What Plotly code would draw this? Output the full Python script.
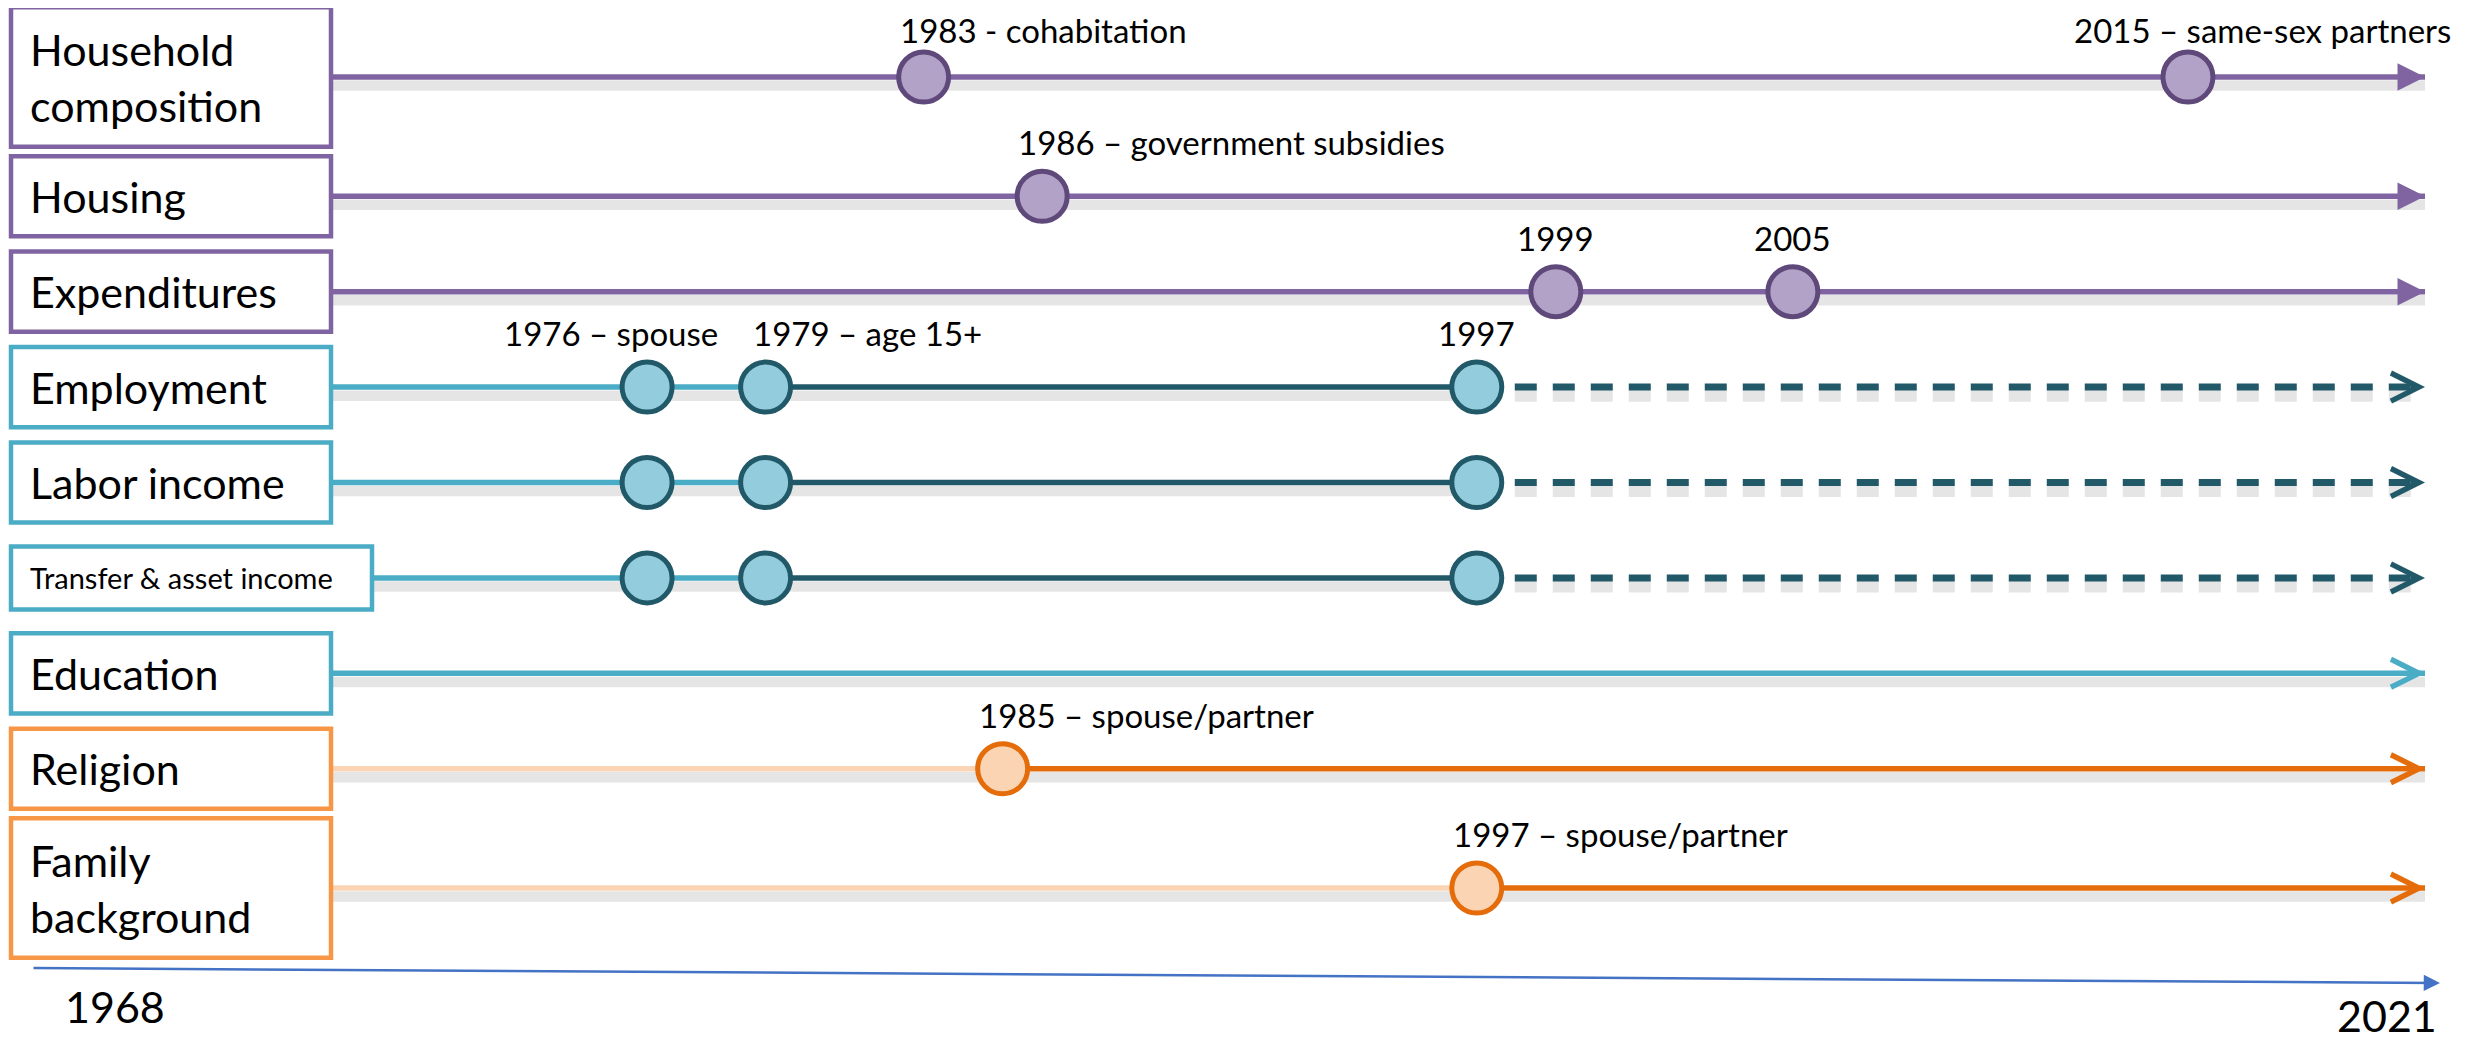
import plotly.graph_objects as go

# Timeline rows, top to bottom
ROWS = ["Household composition", "Housing", "Expenditures", "Employment",
        "Labor income", "Transfer & asset income", "Education", "Religion",
        "Family background"]
ROW_LABELS = ["Household<br>composition", "Housing", "Expenditures", "Employment",
              "Labor income", "Transfer & asset income", "Education", "Religion",
              "Family<br>background"]
ROW_GROUP = ["purple", "purple", "purple", "teal", "teal", "teal", "teal",
             "orange", "orange"]

START_YEAR = 1968
END_YEAR = 2021
TIME_TICKS = [START_YEAR, END_YEAR]

# years where a row changes from light to dark (and then to dashed)
ROW_BREAKS = {
    "Employment": [1979, 1997],
    "Labor income": [1979, 1997],
    "Transfer & asset income": [1979, 1997],
    "Religion": [1985],
    "Family background": [1997],
}

# milestones on the rows
EVENT_ROW = ["Household composition", "Household composition", "Housing",
             "Expenditures", "Expenditures",
             "Employment", "Employment", "Employment",
             "Labor income", "Labor income", "Labor income",
             "Transfer & asset income", "Transfer & asset income", "Transfer & asset income",
             "Religion", "Family background"]
EVENT_YEAR = [1983, 2015, 1986, 1999, 2005,
              1976, 1979, 1997,
              1976, 1979, 1997,
              1976, 1979, 1997,
              1985, 1997]
EVENT_TEXT = ["1983 - cohabitation", "2015 \u2013 same-sex partners",
              "1986 \u2013 government subsidies", "1999", "2005",
              "1976 \u2013 spouse", "1979 \u2013 age 15+", "1997",
              "", "", "",
              "", "", "",
              "1985 \u2013 spouse/partner", "1997 \u2013 spouse/partner"]

# ---- styling ----
OFF = 8                      # page margin in front of the plot div
FW, FH = 2483 - OFF, 1044 - OFF
FONT = "Lato, 'Open Sans', sans-serif"
STYLE = {
    "purple": dict(box="#8064A2", fill="#B3A2C7", edge="#5F497A", head=2,
                   phases=[("#8064A2", "solid")]),
    "teal": dict(box="#4BACC6", fill="#93CDDD", edge="#215968", head=5,
                 phases=[("#4BACC6", "solid"), ("#215968", "solid"), ("#215968", "22px,16px")]),
    "orange": dict(box="#F79646", fill="#FBD4B4", edge="#E46C0A", head=5,
                   phases=[("#FBD4B4", "solid"), ("#E46C0A", "solid")]),
}
SMALL_LABELS = {"Transfer & asset income"}
# label placement: (xanchor, xshift)
LABEL_PLACE = {"1999": ("center", 0), "2005": ("center", 0), "1997": ("center", 0),
               "1976 \u2013 spouse": ("right", 72),
               "1979 \u2013 age 15+": ("left", -14),
               "2015 \u2013 same-sex partners": ("left", -115)}


def sx(p):
    return (p - OFF) / FW


def sy(p):
    return 1 - (p - OFF) / FH


# row centres: two-line labels get a taller row
row_y = {}
acc = 0.0
for name, lab in zip(ROWS, ROW_LABELS):
    h = 1.5 if "<br>" in lab else 1.0
    row_y[name] = acc + h / 2
    acc += h

fig = go.Figure()

for name, group in zip(ROWS, ROW_GROUP):
    st = STYLE[group]
    stops = [START_YEAR] + ROW_BREAKS.get(name, []) + [END_YEAR]
    y = row_y[name]
    for i in range(len(stops) - 1):
        color, dash = st["phases"][i]
        width = 7 if dash != "solid" else 5.5
        xs = [stops[i], stops[i + 1]]
        # soft drop shadow
        fig.add_trace(go.Scatter(x=xs, y=[y + 0.09, y + 0.09], mode="lines",
                                 line=dict(color="rgba(0,0,0,0.10)", width=width + 5, dash=dash),
                                 hoverinfo="skip", showlegend=False))
        fig.add_trace(go.Scatter(x=xs, y=[y, y], mode="lines",
                                 line=dict(color=color, width=width, dash=dash),
                                 hoverinfo="skip", showlegend=False))
    head_color = st["phases"][len(stops) - 2][0]
    fig.add_annotation(x=END_YEAR, y=y, ax=END_YEAR - 0.35, ay=y,
                       xref="x", yref="y", axref="x", ayref="y", text="",
                       showarrow=True, arrowhead=st["head"], arrowsize=1.0,
                       arrowwidth=5.5, arrowcolor=head_color, standoff=0)

# milestone markers and labels
for row, year, text in zip(EVENT_ROW, EVENT_YEAR, EVENT_TEXT):
    st = STYLE[ROW_GROUP[ROWS.index(row)]]
    fig.add_trace(go.Scatter(x=[year], y=[row_y[row]], mode="markers",
                             marker=dict(size=50, color=st["fill"],
                                         line=dict(color=st["edge"], width=5)),
                             hoverinfo="skip", showlegend=False))
    if text:
        anchor, shift = LABEL_PLACE.get(text, ("left", -25))
        fig.add_annotation(x=year, y=row_y[row], xref="x", yref="y", text=text,
                           showarrow=False, xanchor=anchor, xshift=shift,
                           yanchor="middle", yshift=47 if row == ROWS[0] else 54,
                           borderpad=0,
                           font=dict(family=FONT, size=33, color="black"))

# label boxes
for name, lab, group in zip(ROWS, ROW_LABELS, ROW_GROUP):
    y = row_y[name]
    small = name in SMALL_LABELS
    half = 0.73 if "<br>" in lab else (0.33 if small else 0.42)
    right = 372 if small else 331
    fig.add_shape(type="rect", xref="paper", yref="y", x0=sx(11), x1=sx(right),
                  y0=y - half, y1=y + half, fillcolor="white", layer="above",
                  line=dict(color=STYLE[group]["box"], width=4.5))
    fig.add_annotation(x=sx(28), y=y, xref="paper", yref="y", text=lab,
                       showarrow=False, xanchor="left", yanchor="middle", align="left",
                       font=dict(family=FONT, size=29 if small else 43, color="black"))

# time arrow at the bottom
fig.add_annotation(x=sx(2440), y=sy(983), xref="paper", yref="paper",
                   ax=-(2440 - 32), ay=-15, text="", showarrow=True,
                   arrowhead=2, arrowsize=1.3, arrowwidth=2.5, arrowcolor="#4472C4")
fig.add_annotation(x=sx(115), y=sy(1006), xref="paper", yref="paper",
                   text=str(TIME_TICKS[0]), showarrow=False, xanchor="center", yanchor="middle",
                   borderpad=0, font=dict(family=FONT, size=43, color="black"))
fig.add_annotation(x=sx(2438), y=sy(1015), xref="paper", yref="paper",
                   text=str(TIME_TICKS[1]), showarrow=False, xanchor="right", yanchor="middle",
                   borderpad=0, font=dict(family=FONT, size=43, color="black"))

# axes: years map so that START_YEAR sits at the box edge and END_YEAR at the arrow tips
x0_px, x1_px = 331 - OFF, 2425 - OFF
ppy = (x1_px - x0_px) / (END_YEAR - START_YEAR)
x_range = [START_YEAR - x0_px / ppy, END_YEAR + (FW - x1_px) / ppy]
first, last = row_y[ROWS[0]], row_y[ROWS[-1]]
unit = (888 - 77) / (last - first)
y_top = first - (77 - OFF) / unit
y_range = [y_top + FH / unit, y_top]

fig.update_layout(
    width=FW, height=FH, margin=dict(l=0, r=0, t=0, b=0),
    paper_bgcolor="white", plot_bgcolor="white",
    xaxis=dict(range=x_range, visible=False, fixedrange=True),
    yaxis=dict(range=y_range, visible=False, fixedrange=True),
    showlegend=False,
)

fig.write_html("out.html")
